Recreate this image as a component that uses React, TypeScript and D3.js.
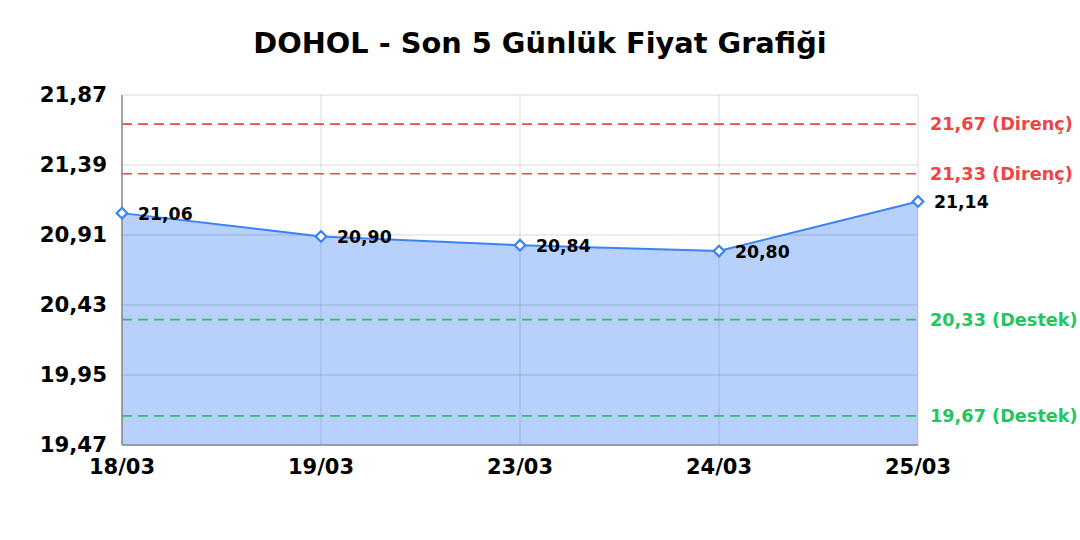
import { useEffect, useRef } from "react";
import * as d3 from "d3";

const dates = ["18/03", "19/03", "23/03", "24/03", "25/03"];
const prices = [21.06, 20.9, 20.84, 20.8, 21.14];
const yTicks = [19.47, 19.95, 20.43, 20.91, 21.39, 21.87];
const resistances = [21.67, 21.33];
const supports = [20.33, 19.67];

const W = 1080;
const H = 540;
const FONT = "'DejaVu Sans', sans-serif";

const fmt = (v: number) => v.toFixed(2).replace(".", ",");

const App = () => {
    const ref = useRef<SVGSVGElement>(null);

    useEffect(() => {
        const svg = d3.select(ref.current);
        svg.selectAll("*").remove();

        const margin = { top: 95, right: 162, bottom: 95, left: 122 };
        const x = d3.scalePoint<string>().domain(dates).range([margin.left, W - margin.right]);
        const y = d3.scaleLinear().domain([19.47, 21.87]).range([H - margin.bottom, margin.top]);
        const x0 = margin.left, x1 = W - margin.right;

        // title
        svg.append("text")
            .attr("x", 540).attr("y", 53)
            .attr("text-anchor", "middle")
            .attr("font-family", FONT).attr("font-weight", "bold").attr("font-size", 28.8)
            .text("DOHOL - Son 5 Günlük Fiyat Grafiği");

        // area
        const area = d3.area<number>()
            .x((_, i) => x(dates[i])!)
            .y0(y(19.47))
            .y1(d => y(d));
        svg.append("path").datum(prices)
            .attr("d", area)
            .attr("fill", "rgba(59,130,246,0.37)");

        // grid
        const grid = svg.append("g");
        grid.selectAll(".h").data(yTicks).enter().append("line")
            .attr("x1", x0).attr("x2", x1)
            .attr("y1", d => y(d)).attr("y2", d => y(d))
            .attr("stroke", "rgba(0,0,0,0.1)").attr("stroke-width", 1.3);
        grid.selectAll(".v").data(dates).enter().append("line")
            .attr("x1", d => x(d)!).attr("x2", d => x(d)!)
            .attr("y1", y(21.87)).attr("y2", y(19.47))
            .attr("stroke", "rgba(0,0,0,0.1)").attr("stroke-width", 1.3);

        // support / resistance
        const levels = [
            ...resistances.map(v => ({ v, label: `${fmt(v)} (Direnç)`, color: "#ef4444" })),
            ...supports.map(v => ({ v, label: `${fmt(v)} (Destek)`, color: "#22c55e" })),
        ];
        levels.forEach(l => {
            svg.append("line")
                .attr("x1", x0).attr("x2", x1)
                .attr("y1", y(l.v)).attr("y2", y(l.v))
                .attr("stroke", l.color).attr("stroke-width", 1.6)
                .attr("stroke-dasharray", "10,6");
            svg.append("text")
                .attr("x", x1 + 12).attr("y", y(l.v))
                .attr("dy", "0.35em")
                .attr("fill", l.color)
                .attr("font-family", FONT).attr("font-weight", "bold").attr("font-size", 17.7)
                .text(l.label);
        });

        // axes
        svg.append("line")
            .attr("x1", x0).attr("x2", x0).attr("y1", y(21.87)).attr("y2", y(19.47))
            .attr("stroke", "#888").attr("stroke-width", 1.5);
        svg.append("line")
            .attr("x1", x0).attr("x2", x1).attr("y1", y(19.47)).attr("y2", y(19.47))
            .attr("stroke", "#888").attr("stroke-width", 1.5);

        svg.selectAll(".yt").data(yTicks).enter().append("text")
            .attr("x", x0 - 15).attr("y", d => y(d))
            .attr("dy", "0.35em")
            .attr("text-anchor", "end")
            .attr("font-family", FONT).attr("font-weight", "bold").attr("font-size", 21.3)
            .text(d => fmt(d));
        svg.selectAll(".xt").data(dates).enter().append("text")
            .attr("x", d => x(d)!).attr("y", y(19.47) + 29)
            .attr("text-anchor", "middle")
            .attr("font-family", FONT).attr("font-weight", "bold").attr("font-size", 21)
            .text(d => d);

        // line
        const line = d3.line<number>()
            .x((_, i) => x(dates[i])!)
            .y(d => y(d));
        svg.append("path").datum(prices)
            .attr("d", line)
            .attr("fill", "none")
            .attr("stroke", "#3b82f6").attr("stroke-width", 2);

        // markers
        const sym = d3.symbol().type(d3.symbolDiamond2).size(72);
        svg.selectAll(".pt").data(prices).enter().append("path")
            .attr("d", sym)
            .attr("transform", (d, i) => `translate(${x(dates[i])},${y(d)})`)
            .attr("fill", "#fff")
            .attr("stroke", "#3b82f6").attr("stroke-width", 2.2);

        svg.selectAll(".pl").data(prices).enter().append("text")
            .attr("x", (_, i) => x(dates[i])! + 16)
            .attr("y", d => y(d))
            .attr("dy", "0.4em")
            .attr("font-family", FONT).attr("font-weight", "bold").attr("font-size", 17.3)
            .text(d => fmt(d));
    }, []);

    return (
        <svg ref={ref} width={W} height={H}
            style={{ position: "absolute", left: 0, top: 0, background: "#fff" }} />
    );
};

export default App;
